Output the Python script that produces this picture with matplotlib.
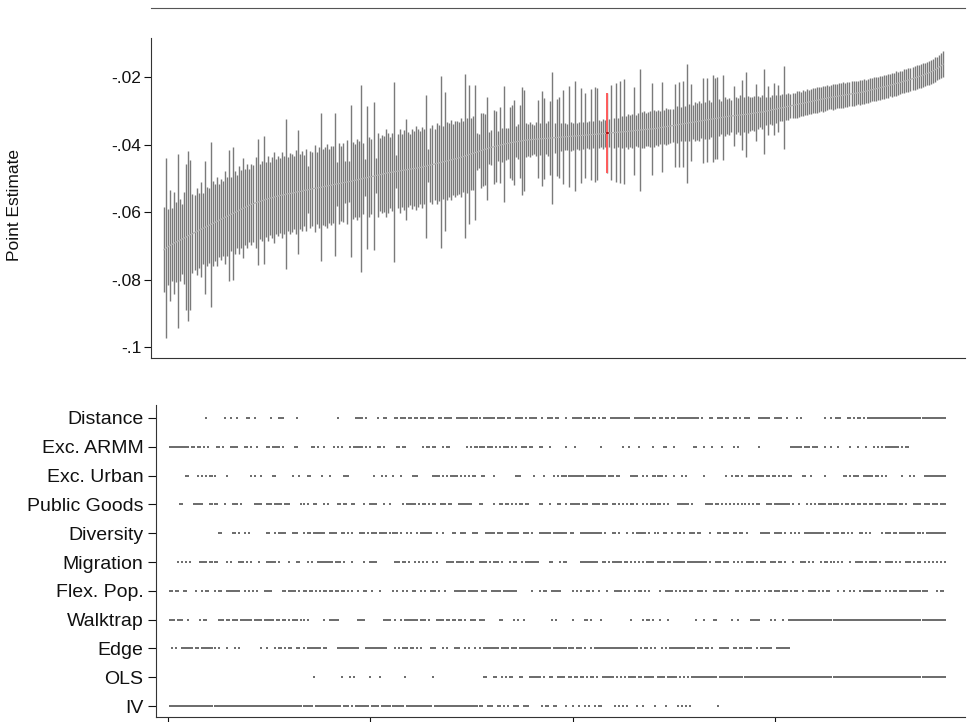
import numpy as np
import matplotlib
matplotlib.use("Agg")
import matplotlib.pyplot as plt
from matplotlib.lines import Line2D

plt.rcParams['font.family'] = ['Liberation Sans', 'DejaVu Sans']

# point estimates (x -1e-4), sorted, one per specification
est_e4 = """
712 707 703 699 696 692 689 686 683 680 677 674 670 667 664 661
658 655 652 649 646 643 640 637 634 631 628 625 622 619 616 613
610 607 604 601 598 595 592 589 586 583 580 577 575 573 571 569
567 565 563 561 559 558 556 554 553 551 550 549 547 546 545 544
543 541 540 539 538 536 535 534 533 531 530 529 528 527 526 524
523 522 521 519 518 517 516 515 513 512 511 510 509 507 506 505
503 502 500 499 498 496 495 494 492 491 490 488 487 485 484 483
482 481 480 479 478 477 476 475 474 473 472 471 470 469 468 467
465 464 462 461 459 458 456 455 453 452 450 449 447 446 444 443
441 440 438 436 434 432 430 428 426 424 422 420 418 416 414 412
410 408 407 405 404 402 401 399 398 397 395 394 393 392 391 390
389 388 387 386 386 385 385 384 384 383 383 382 382 381 381 380
380 379 379 378 378 377 377 376 376 375 375 374 374 373 373 372
372 371 371 370 370 369 369 368 368 367 366 366 365 365 364 364
363 363 362 362 361 360 360 359 358 358 357 357 356 355 355 354
354 353 352 351 350 349 348 347 346 345 344 343 342 341 340 339
338 337 336 335 334 333 332 331 330 329 328 327 326 325 324 323
322 321 320 319 318 317 316 315 315 314 313 313 312 311 311 310
309 308 307 306 305 304 304 303 301 300 299 297 296 295 293 292
291 290 288 287 286 284 283 282 280 279 278 277 275 274 273 271
270 269 268 266 265 264 262 261 260 259 258 257 256 255 254 253
252 251 250 249 248 247 246 245 244 242 241 239 238 236 235 233
232 230 229 227 226 224 223 221 219 218 216 214 212 211 209 207
205 203 201 199 197 195 192 190 188 185 182 179 175 171 167 162
"""

# half width of the confidence interval (x 1e-4)
half_e4 = """
126 267 112 164 108 150 118 258 122 105 135 215 252 222 118 110
128 112 140 105 197 118 110 243 125 115 132 108 120 112 138 118
194 110 198 122 108 130 116 148 112 125 108 120 114 135 187 110
118 190 112 126 108 120 135 110 118 112 128 115 223 110 120 116
108 125 184 112 118 105 122 70 115 110 128 108 120 219 112 118
125 110 118 115 212 65 120 112 118 62 125 60 225 115 108 120
112 277 105 55 212 118 110 219 52 125 108 115 112 130 118 105
115 267 48 110 125 108 118 150 112 105 118 110 125 115 108 120
112 212 50 110 118 105 120 112 255 108 207 115 110 118 105 112
110 108 118 105 244 112 205 108 110 199 55 50 112 108 105 153
48 52 110 105 45 112 50 171 48 45 105 110 126 46 52 108
160 150 50 48 52 46 44 50 115 48 141 120 46 52 110 195
45 115 120 42 139 40 38 150 42 40 162 38 42 140 40 126
38 42 135 40 140 136 42 38 45 40 118 42 140 44 146 42
150 48 156 45 52 48 50 130 46 50 182 52 55 48 50 52
135 55 50 52 48 133 50 55 52 50 48 123 55 125 50 128
52 176 55 114 50 58 55 60 52 126 55 125 58 52 129 120
121 55 50 126 58 52 55 48 89 55 50 60 104 52 126 55
50 48 52 84 48 45 50 126 42 72 40 45 77 42 70 38
40 123 38 40 36 38 37 40 38 36 39 37 38 36 38 37
36 38 37 35 38 36 37 35 36 38 36 35 37 36 38 35
36 35 37 36 35 34 36 35 37 34 36 35 34 36 35 34
35 34 36 34 35 33 35 34 36 34 35 33 35 34 36 35
34 35 36 34 35 36 35 34 36 35 36 37 35 36 37 38
"""

baseline_spec = 219

row_labels = ["Distance", "Exc. ARMM", "Exc. Urban", "Public Goods", "Diversity",
              "Migration", "Flex. Pop.", "Walktrap", "Edge", "OLS", "IV"]

# specifications (1-based, sorted order) that use each choice
distance = """19 28 31 34 39 40 43 51 55-57 64 84 93-96 98 104 107 108 112 113 115-117 119 120
122 123 125-127 129-131 134 135 137-140 143-148 150-154 156-161 163-166 168 169 172-175 177
179-182 185 188-190 192 193 197 200-204 206-208 210 211 213 215 216 219-228 231-238 240 241
243 244 246 247 249 250 252-262 264 268 269 272-274 276 277 280 281 283 285-287 292-297
300-303 306 311 313 325 328 330-332 336 337 339 341 342 344 346-384"""
exc_armm = """1-10 12 13 15 16 18 20 24 25 27 31-34 38 39 41 44 49 50 52-55 57 63 64 71 72 74 77 82
84 86 90 92-96 98 100 104 105 107 113 114 116 117 126 128 129 131 132 136 138 139 148 150
152-156 158-160 162 164 166-168 170 172 175-177 179 180 184 185 189 197 201 214 225 228 233
240 245 246 250 260 261 265 269 274 280 282 292 308-313 315-317 319-321 325 328 331 337 341
345 349 351 353 355-361 363 365 366"""
exc_urban = """9 10 15 17 19 21-23 29 41 43 46 52 53 62 65 69 70 76 80 87-89 102 106 108 111 115
121-123 131-134 136 138 140-143 145 147 149 151 152 155 156 161 172-174 181 186 191 193
195-205 207-216 218-220 222 223 229-232 235 237 240-244 246 250 254 256 265 276 279 281 282
284 287-289 291-294 296 297 299 300 302 304 305 307 308 314 315 318 325 334 335 337 339-341
344-348 350 351 353 355 363 367 369 374-384"""
public_goods = """6 7 13-17 21-24 28 32-34 36 43-46 49-51 53-56 58-60 66 67 69 72 73 77 79 84 85 87
88 91 92 97 100-103 107 110 116 118-122 124 126 127 129 131 132 135-137 139 140 144-150 154
155 161 164 165 167 168 170 172 174 175 177 178 184 185 189 193 194 197 199-203 205-207
210-213 215-217 220 221 223 225 227 229 230 232 235 237 239-243 245 247 252-257 259 266-269
271 272 274 276 278 280 282 284 285 287 289 291 292 296-298 300-307 309 312 316 318 320
322-325 327-331 333 335 336 338 339 341 342 344 345 347 348 350-352 354 356-360 362 363 365
369-372 374-376 378-380 382-384"""
diversity = """25 26 32 33 35 38 40 49 50 53 55-58 62-64 67 69 70 72-77 80-83 86 87 89 91 95-97 99
101-103 105-108 110-113 115 118 120 123 125-130 133 136 141 142 145-147 151-153 157-161
163-165 168-173 176-178 180 184-189 191-197 199 200 204-214 216 220 221 223 227 230 232-236
238 241 242 245 246 249 252 253 255 258-260 262 263 268 272 273 275-277 280 281 283 284 286
293-297 300-303 305 308 310 312 315-324 326 327 329-331 333 334 336 338 342 343 345 347 353
355-357 359 360 362-369 371-373 375-384"""
migration = """5 7 9 11 16-19 21-24 29 31 35-37 39 41 45 49-53 55 60 64 65 69 71 74-81 83-85 87 91
97 100-103 112-114 116 117 119 122 124 126 128 131 133 138-141 143-146 148 150 151 154-157
159 161-163 165 169 171 172 175 177-183 189 190 194 196 197 204-212 215 216 218 220-224 226
227 229 231 233 235 237-240 242-245 247 248 250-255 257-266 268 271-273 275-277 280 282 284
286-289 291 293-295 298-300 302 303 305 309 313-315 317 319 323 325 326 328 329 331 333 337
340-343 345 347-350 352 355-358 360 362 365-367 369 371 372 374 376 378 380 382 384"""
flex_pop = """1 2 4 5 8 9 14 17 19 20 23 25 26 29-35 38 40 42 44 48-51 57 58 60-63 65 67 68 70 71
73 75 77 78 80 81 83 84 86 87 89 91 94 97 98 101 105 111 113 116 118 121 122 125 127 130-132
134 137 142-147 149-153 155-157 160-164 166-172 180 184 186 187 190-194 200 202 204 207 208
210 213 217 221-224 226 228 231 233 234 236 238 243 246-249 251 253 255 256 258 259 262-264
266 270 271 273-275 277 281 282 284 286 287 289 290 292 295 297 298 300-302 304-306 308 310
311 314 317-320 322 324 326 327 331 334 337 339 342 344-348 350-352 355 357 359 360 362-365
367-375 380 382 383"""
walktrap = """1-3 5-7 10 16 18 19 25-27 29 30 32-34 36-41 43-46 48-52 54 55 57 58 60 62-64 66 67 69
77 80-84 94-97 107-110 112 115 117-123 125-127 129 133-136 138 139 141 142 144 145 147
150-152 154-156 164 165 171 173 176 190 192 200 206 207 209 214 229 235 237 238 240 243 247
261 265 270 271 279 282 288-292 298 300 304 307-384"""
edge = """2 4 7-12 14 15 17-23 25 29 33 35 46 49 53 55 56 58 60 61 64 65 67 69-75 77 78 84-94
98-108 112 114 116-118 120 121 123 125 130-132 136 138 142-144 147 149 152 154 156-163
165-168 170-172 174-189 191-200 202-204 206 209 211-232 234 236 237 239 241 244 246 248-260
262-264 266 267 269 273-277 280 281 283-288 291 293-298 301-307"""
iv = """1-71 73-85 87-89 91 93-99 101-104 106-116 118-130 132-155 158-160 163 164 166 168
171-173 176-178 185 187 188 191 192 197 200 203 206 208 211 213 214 221 223 225 227 232 235
241 246 252 254 256 258 272"""


def spans(text):
    """Expand a '1-3 7 9-10' style list into spec numbers."""
    out = []
    for tok in text.split():
        if '-' in tok:
            a, b = tok.split('-')
            out.extend(range(int(a), int(b) + 1))
        else:
            out.append(int(tok))
    return out


est = -np.array(est_e4.split(), dtype=float) / 1e4
half = np.array(half_e4.split(), dtype=float) / 1e4
n = len(est)
spec = np.arange(1, n + 1)
lo, hi = est - half, est + half

iv_specs = spans(iv)
ols_specs = [k for k in spec if k not in set(iv_specs)]
rows = [spans(distance), spans(exc_armm), spans(exc_urban), spans(public_goods),
        spans(diversity), spans(migration), spans(flex_pop), spans(walktrap),
        spans(edge), ols_specs, iv_specs]

W, H = 977, 722
fig = plt.figure(figsize=(W / 100, H / 100), dpi=100)


def box(left, top, right, bottom):
    return [left / W, 1 - bottom / H, (right - left) / W, (bottom - top) / H]


# top panel: estimates with confidence intervals
ax = fig.add_axes(box(151, 38, 965, 358))
ax.vlines(spec, lo, hi, color='#7a7a7a', lw=1.0, zorder=2)
ax.plot(spec, est, color='#b2b2b2', lw=0.9, zorder=3)
b = baseline_spec - 1
ax.vlines(spec[b], lo[b], hi[b], color='#ff5c5c', lw=1.4, zorder=4)
ax.plot([spec[b] - 0.4, spec[b] + 0.4], [est[b], est[b]], color='#a00000', lw=1.2, zorder=5)
ax.set_xlim(-5.39, 394.8)
ax.set_ylim(-0.10326, -0.00844)
ax.set_yticks([-0.1, -0.08, -0.06, -0.04, -0.02])
ax.set_yticklabels(['-.1', '-.08', '-.06', '-.04', '-.02'])
ax.set_xticks([])
ax.tick_params(axis='y', length=5, width=0.8, pad=2, labelsize=12.5, colors='#111111')
for side in ('top', 'right'):
    ax.spines[side].set_visible(False)
for side in ('left', 'bottom'):
    ax.spines[side].set_color('#333333')
    ax.spines[side].set_linewidth(0.8)

fig.text(15 / W, 1 - 205 / H, 'Point Estimate', rotation=90, ha='center', va='center',
         fontsize=12.5, color='#111111')
fig.add_artist(Line2D([151 / W, 965 / W], [1 - 8 / H, 1 - 8 / H], color='#555555', lw=0.8))

# bottom panel: which choices each specification uses
bx = fig.add_axes(box(156, 405, 965, 717))
n_rows = len(row_labels)
for i, members in enumerate(rows):
    ypos = n_rows - 1 - i
    bx.scatter(members, np.full(len(members), ypos), marker='s', s=2.3,
               color='#6e6e6e', linewidths=0)
bx.set_xlim(-5.92, 394.0)
bx.set_ylim(-0.38, 10.45)
bx.set_yticks(range(n_rows))
bx.set_yticklabels(row_labels[::-1])
bx.set_xticks([0, 100, 200, 300])
bx.set_xticklabels([])
bx.tick_params(axis='y', length=6, width=0.8, pad=3, labelsize=14, colors='#111111')
bx.tick_params(axis='x', length=5, width=0.8, colors='#111111')
for side in ('top', 'right'):
    bx.spines[side].set_visible(False)
for side in ('left', 'bottom'):
    bx.spines[side].set_color('#333333')
    bx.spines[side].set_linewidth(0.8)

fig.savefig('out.png', dpi=100)
